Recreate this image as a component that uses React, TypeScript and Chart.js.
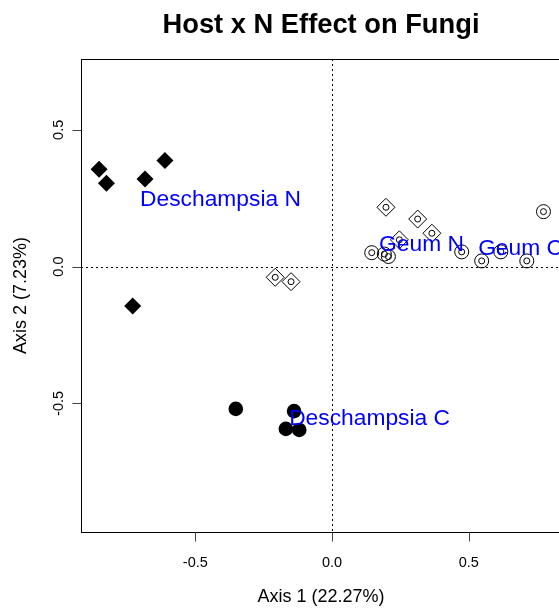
import { useEffect, useRef } from 'react';
import { Chart, registerables } from 'chart.js';

Chart.register(...registerables);

// Ordination scores (Axis 1, Axis 2) per treatment group
const deschampsiaNX = [-0.852, -0.825, -0.684, -0.611, -0.729];
const deschampsiaNY = [0.356, 0.305, 0.32, 0.388, -0.144];
const deschampsiaCX = [-0.352, -0.139, -0.169, -0.12];
const deschampsiaCY = [-0.52, -0.528, -0.593, -0.597];
const geumNX = [-0.208, -0.15, 0.197, 0.313, 0.365, 0.246];
const geumNY = [-0.039, -0.055, 0.217, 0.174, 0.122, 0.098];
const geumCX = [0.145, 0.191, 0.206, 0.474, 0.547, 0.617, 0.712, 0.773];
const geumCY = [0.051, 0.046, 0.037, 0.054, 0.021, 0.054, 0.021, 0.201];

// Group labels and where their text starts (in score units)
const groupNames = ['Deschampsia N', 'Deschampsia C', 'Geum N', 'Geum C'];
const groupLabelX = [-0.702, -0.157, 0.172, 0.534];
const groupLabelY = [0.251, -0.548, 0.087, 0.074];

// Axes
const xTicks = [-0.5, 0, 0.5];
const xTickLabels = ['-0.5', '0.0', '0.5'];
const yTicks = [-0.5, 0, 0.5];
const yTickLabels = ['-0.5', '0.0', '0.5'];
const xLimits = [-0.918, 0.837];
const yLimits = [-0.97, 0.759];

const mainTitle = 'Host x N Effect on Fungi';
const xTitle = 'Axis 1 (22.27%)';
const yTitle = 'Axis 2 (7.23%)';

const FONT = '"Liberation Sans", Arial, Helvetica, sans-serif';
const LABEL_SIZE = 22.8;

const toPoints = (xs: number[], ys: number[]) => xs.map((x, i) => ({ x, y: ys[i] }));

// Base-graphics style frame: dotted origin lines, box, ticks and text
const framePlugin = {
  id: 'frame',
  beforeDatasetsDraw(chart: any) {
    const { ctx, chartArea: a, scales } = chart;
    const x0 = Math.round(scales.x.getPixelForValue(0)) + 0.5;
    const y0 = Math.round(scales.y.getPixelForValue(0)) + 0.5;
    ctx.save();
    ctx.strokeStyle = '#000';
    ctx.lineWidth = 1;
    ctx.setLineDash([2, 3]);
    ctx.beginPath();
    ctx.moveTo(a.left, y0);
    ctx.lineTo(a.right, y0);
    ctx.moveTo(x0, a.top);
    ctx.lineTo(x0, a.bottom);
    ctx.stroke();
    ctx.restore();
  },
  afterDraw(chart: any) {
    const { ctx, chartArea: a, scales } = chart;
    const sx = scales.x;
    const sy = scales.y;
    ctx.save();

    // group labels
    ctx.fillStyle = '#0000ff';
    ctx.font = `${LABEL_SIZE}px ${FONT}`;
    ctx.textAlign = 'left';
    ctx.textBaseline = 'alphabetic';
    groupNames.forEach((name, i) => {
      const px = sx.getPixelForValue(groupLabelX[i]);
      const py = sy.getPixelForValue(groupLabelY[i]);
      ctx.fillText(name, px, py + 0.36 * LABEL_SIZE);
    });

    // box
    ctx.strokeStyle = '#000';
    ctx.lineWidth = 1;
    ctx.setLineDash([]);
    const l = Math.round(a.left) + 0.5;
    const t = Math.round(a.top) + 0.5;
    const b = Math.round(a.bottom) + 0.5;
    const r = Math.round(a.right) + 0.5;
    ctx.strokeRect(l, t, r - l, b - t);

    // ticks
    ctx.strokeStyle = '#444';
    ctx.beginPath();
    xTicks.forEach((v) => {
      const px = Math.round(sx.getPixelForValue(v)) + 0.5;
      ctx.moveTo(px, b);
      ctx.lineTo(px, b + 9);
    });
    yTicks.forEach((v) => {
      const py = Math.round(sy.getPixelForValue(v)) + 0.5;
      ctx.moveTo(l, py);
      ctx.lineTo(l - 9, py);
    });
    ctx.stroke();

    // tick labels
    ctx.fillStyle = '#000';
    ctx.font = `14.5px ${FONT}`;
    ctx.textAlign = 'center';
    xTicks.forEach((v, i) => {
      ctx.fillText(xTickLabels[i], sx.getPixelForValue(v), 567);
    });
    yTicks.forEach((v, i) => {
      ctx.save();
      ctx.translate(62.5, sy.getPixelForValue(v));
      ctx.rotate(-Math.PI / 2);
      ctx.fillText(yTickLabels[i], 0, 0);
      ctx.restore();
    });

    // axis titles
    const cx = (a.left + a.right) / 2;
    const cy = (a.top + a.bottom) / 2;
    ctx.font = `18px ${FONT}`;
    ctx.fillText(xTitle, cx, 602);
    ctx.save();
    ctx.translate(25.5, cy);
    ctx.rotate(-Math.PI / 2);
    ctx.fillText(yTitle, 0, 0);
    ctx.restore();

    // main title
    ctx.font = `bold 27.3px ${FONT}`;
    ctx.fillText(mainTitle, cx, 32.5);

    ctx.restore();
  },
};

export default function App() {
  const canvasRef = useRef<HTMLCanvasElement | null>(null);

  useEffect(() => {
    const canvas = canvasRef.current;
    if (!canvas) return;
    const chart = new Chart(canvas, {
      type: 'scatter',
      data: {
        datasets: [
          {
            label: 'Deschampsia N',
            data: toPoints(deschampsiaNX, deschampsiaNY),
            pointStyle: 'rectRot',
            pointRadius: 8.5,
            backgroundColor: '#000',
            borderColor: '#000',
            borderWidth: 0,
          },
          {
            label: 'Deschampsia C',
            data: toPoints(deschampsiaCX, deschampsiaCY),
            pointStyle: 'circle',
            pointRadius: 7.3,
            backgroundColor: '#000',
            borderColor: '#000',
            borderWidth: 0,
          },
          {
            label: 'Geum N',
            data: toPoints(geumNX, geumNY),
            pointStyle: 'rectRot',
            pointRadius: 9,
            backgroundColor: 'rgba(0,0,0,0)',
            borderColor: '#000',
            borderWidth: 1,
          },
          {
            label: 'Geum N sites',
            data: toPoints(geumNX, geumNY),
            pointStyle: 'circle',
            pointRadius: 3,
            backgroundColor: 'rgba(0,0,0,0)',
            borderColor: '#000',
            borderWidth: 1,
          },
          {
            label: 'Geum C',
            data: toPoints(geumCX, geumCY),
            pointStyle: 'circle',
            pointRadius: 7,
            backgroundColor: 'rgba(0,0,0,0)',
            borderColor: '#000',
            borderWidth: 1,
          },
          {
            label: 'Geum C sites',
            data: toPoints(geumCX, geumCY),
            pointStyle: 'circle',
            pointRadius: 3,
            backgroundColor: 'rgba(0,0,0,0)',
            borderColor: '#000',
            borderWidth: 1,
          },
        ],
      },
      options: {
        responsive: false,
        animation: false,
        devicePixelRatio: 1,
        events: [],
        layout: { padding: { left: 81, top: 59, right: 19, bottom: 78 } },
        scales: {
          x: { type: 'linear', min: xLimits[0], max: xLimits[1], display: false },
          y: { type: 'linear', min: yLimits[0], max: yLimits[1], display: false },
        },
        plugins: {
          legend: { display: false },
          tooltip: { enabled: false },
          title: { display: false },
        },
      },
      plugins: [framePlugin],
    });
    return () => chart.destroy();
  }, []);

  return (
    <div
      style={{
        position: 'fixed',
        left: 0,
        top: 0,
        width: 559,
        height: 610,
        overflow: 'hidden',
        background: '#fff',
      }}
    >
      <canvas ref={canvasRef} width={580} height={610} style={{ display: 'block' }} />
    </div>
  );
}
